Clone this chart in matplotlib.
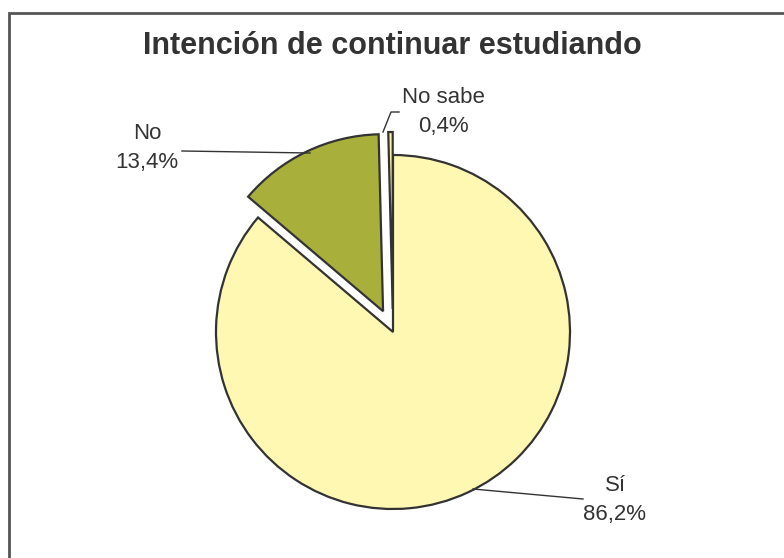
import matplotlib
matplotlib.use("Agg")
import matplotlib.pyplot as plt
from matplotlib.patches import Rectangle

plt.rcParams['font.family'] = ['Liberation Sans', 'DejaVu Sans']

title = "Intención de continuar estudiando"
categories = ["Sí", "No", "No sabe"]
values = [86.2, 13.4, 0.4]
pct_labels = ["86,2%", "13,4%", "0,4%"]
colors = ["#FFF8B2", "#A8AF3A", "#FFF3A8"]
explode = [0.0, 0.13, 0.13]

W, H = 784, 558
fig = plt.figure(figsize=(W / 100, H / 100), dpi=100)
ax = fig.add_axes([0, 0, 1, 1])

CX, CY, R = 393, 332, 177


def px(x, y):
    return ((x - CX) / R, (CY - y) / R)


ax.pie(values, colors=colors, explode=explode, startangle=90, counterclock=False,
       radius=1.0, center=(0, 0),
       wedgeprops=dict(edgecolor="#333333", linewidth=1.6))
ax.set_aspect('equal')
ax.set_xlim(-CX / R, (W - CX) / R)
ax.set_ylim(-(H - CY) / R, CY / R)
ax.axis('off')

txt_color = "#333333"
fs = 16

# labels
label_pos = {"Sí": (615, 500), "No": (147, 148), "No sabe": (443, 112)}
for cat, pct in zip(categories, pct_labels):
    x, y = px(*label_pos[cat])
    ax.text(x, y, f"{cat}\n{pct}", ha='center', va='center', fontsize=fs,
            color=txt_color, linespacing=1.45)

# leader lines
leaders = {
    "Sí": [(473, 489), (583, 499)],
    "No": [(182, 151), (310, 153)],
    "No sabe": [(383, 132), (391, 112), (399, 112)],
}
for pts in leaders.values():
    xs, ys = zip(*[px(*p) for p in pts])
    ax.plot(xs, ys, color="#333333", linewidth=1.0)

fig.text(392 / W, 1 - 46 / H, title, ha='center', va='center', fontsize=22,
         fontweight='bold', color="#333333")

# frame (left and top edges visible)
fig.patches.append(Rectangle((9 / W, -0.1), 1.2, 1 - 13 / H + 0.1,
                             transform=fig.transFigure, fill=False,
                             edgecolor="#555555", linewidth=2))

fig.savefig("out.png", dpi=100, facecolor="white")
